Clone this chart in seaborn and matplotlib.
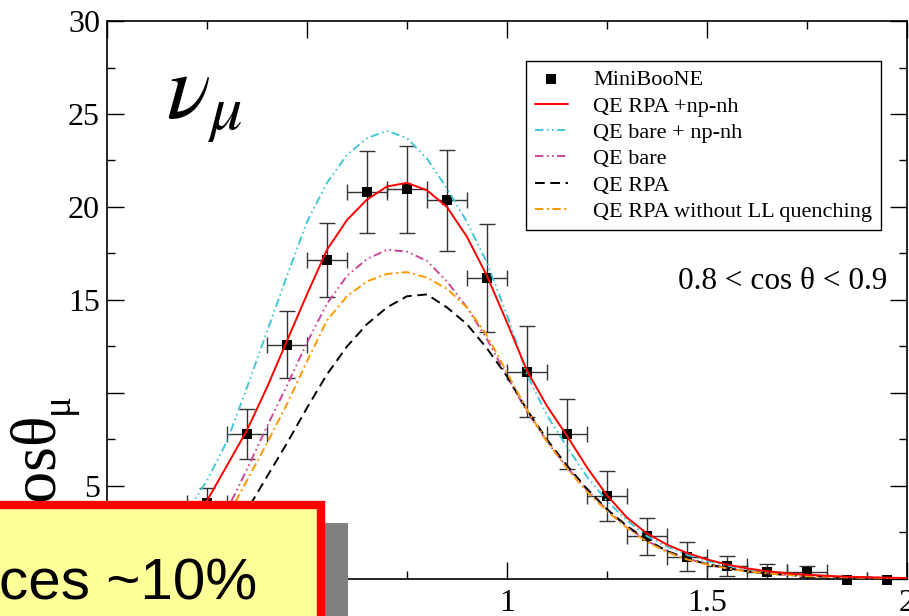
import numpy as np
import pandas as pd
import matplotlib
matplotlib.use("Agg")
import matplotlib.pyplot as plt
import seaborn as sns
from matplotlib.patches import Rectangle
from matplotlib.ticker import MultipleLocator

# MiniBooNE points (bin centres, values, errors)
x_data = [0.15, 0.25, 0.35, 0.45, 0.55, 0.65, 0.75, 0.85, 0.95, 1.05,
          1.15, 1.25, 1.35, 1.45, 1.55, 1.65, 1.75, 1.85, 1.95]
y_data = [1.6, 4.1, 7.8, 12.6, 17.15, 20.8, 20.95, 20.35, 16.2, 11.15,
          7.8, 4.45, 2.3, 1.2, 0.7, 0.38, 0.4, -0.05, -0.05]
y_err = [0.4, 0.8, 1.35, 1.8, 2.0, 2.2, 2.35, 2.7, 2.9, 2.45,
         1.9, 1.35, 1.0, 0.78, 0.55, 0.45, 0.3, 0.15, 0.1]
x_err = [0.05] * len(x_data)

# model curves
x_th = [0.00, 0.05, 0.10, 0.15, 0.20, 0.25, 0.30, 0.35, 0.40, 0.45,
        0.50, 0.55, 0.60, 0.65, 0.70, 0.75, 0.80, 0.85, 0.90, 0.95,
        1.00, 1.05, 1.10, 1.15, 1.20, 1.25, 1.30, 1.35, 1.40, 1.45,
        1.50, 1.55, 1.60, 1.65, 1.70, 1.75, 1.80, 1.85, 1.90, 1.95, 2.00]
rpa_npnh = [0.0, 0.3, 0.8, 1.7, 2.9, 4.2, 6.1, 8.0, 10.3, 12.8,
            15.3, 17.7, 19.3, 20.4, 21.1, 21.3, 20.9, 20.0, 18.4, 16.3,
            13.8, 11.2, 9.3, 7.7, 6.0, 4.5, 3.3, 2.45, 1.85, 1.4,
            1.05, 0.78, 0.57, 0.42, 0.31, 0.23, 0.17, 0.12, 0.09, 0.07, 0.05]
bare_npnh = [0.0, 0.4, 1.1, 2.2, 3.6, 5.3, 7.4, 10.3, 13.3, 16.3,
             19.2, 21.3, 22.8, 23.7, 24.1, 23.7, 22.6, 21.0, 19.2, 17.0,
             14.2, 11.0, 8.8, 7.1, 5.5, 4.2, 3.15, 2.3, 1.75, 1.3,
             0.97, 0.72, 0.53, 0.39, 0.28, 0.21, 0.15, 0.11, 0.08, 0.06, 0.04]
bare = [0.0, 0.2, 0.6, 1.3, 1.4, 2.4, 3.7, 5.9, 8.2, 10.4,
        12.7, 14.8, 16.3, 17.2, 17.7, 17.6, 17.1, 16.0, 14.6, 12.9,
        10.9, 9.0, 7.4, 6.0, 4.8, 3.7, 2.8, 2.05, 1.5, 1.1,
        0.8, 0.58, 0.42, 0.3, 0.22, 0.16, 0.12, 0.09, 0.07, 0.05, 0.03]
rpa = [0.0, 0.1, 0.3, 0.6, 0.9, 1.6, 2.5, 3.7, 5.5, 7.3,
       9.2, 11.0, 12.5, 13.7, 14.6, 15.2, 15.3, 14.6, 13.7, 12.4,
       10.9, 9.1, 7.5, 6.1, 4.85, 3.75, 2.85, 2.1, 1.5, 1.1,
       0.8, 0.58, 0.42, 0.3, 0.22, 0.16, 0.12, 0.09, 0.07, 0.05, 0.03]
rpa_noLL = [0.0, 0.1, 0.4, 0.9, 1.5, 2.3, 3.3, 5.3, 7.3, 9.4,
            11.7, 13.9, 15.2, 16.0, 16.4, 16.5, 16.2, 15.6, 14.6, 13.1,
            11.1, 9.1, 7.4, 5.95, 4.7, 3.65, 2.75, 2.0, 1.45, 1.05,
            0.78, 0.57, 0.41, 0.3, 0.22, 0.16, 0.12, 0.09, 0.07, 0.05, 0.03]

sns.set_theme(style="ticks")
plt.rcParams['font.family'] = ['Liberation Serif', 'DejaVu Serif']
plt.rcParams['mathtext.fontset'] = 'stix'
plt.rcParams['lines.scale_dashes'] = False
for k in ['text.color', 'axes.labelcolor', 'xtick.color', 'ytick.color', 'axes.edgecolor']:
    plt.rcParams[k] = 'black'

fig = plt.figure(figsize=(9.09, 6.16), dpi=100)
ax = fig.add_axes([0.1177, 0.0601, 0.880, 0.9058])

ax.errorbar(x_data, y_data, xerr=x_err, yerr=y_err, fmt='none',
            ecolor='#333333', elinewidth=1.0, capsize=6, capthick=1.0, zorder=2)
sns.scatterplot(x=x_data, y=y_data, marker='s', s=50, color='black',
                linewidth=0, ax=ax, label='MiniBooNE', zorder=3, clip_on=False)

df = pd.DataFrame({'x': x_th, 'rpa_npnh': rpa_npnh, 'bare_npnh': bare_npnh,
                   'bare': bare, 'rpa': rpa, 'rpa_noLL': rpa_noLL})
sns.lineplot(data=df, x='x', y='rpa_npnh', color='#ff0000', lw=1.4,
             ax=ax, label='QE RPA +np-nh', zorder=5)
sns.lineplot(data=df, x='x', y='bare_npnh', color='#40c8d8', lw=1.4,
             ls=(0, (6, 2.5, 1.2, 2.5, 1.2, 2.5)), ax=ax, label='QE bare + np-nh', zorder=4)
sns.lineplot(data=df, x='x', y='bare', color='#cc4499', lw=1.4,
             ls=(0, (6, 2.5, 1.2, 2.5, 1.2, 2.5)), ax=ax, label='QE bare', zorder=4)
sns.lineplot(data=df, x='x', y='rpa', color='black', lw=1.4,
             ls=(0, (7, 4)), ax=ax, label='QE RPA', zorder=4)
sns.lineplot(data=df, x='x', y='rpa_noLL', color='#ff9900', lw=1.4,
             ls=(0, (6, 2.5, 1.5, 2.5)), ax=ax, label='QE RPA without LL quenching', zorder=4)

ax.set_xlim(0, 2)
ax.set_ylim(0, 30)
ax.set_xlabel('')
ax.set_ylabel('')
ax.xaxis.set_major_locator(MultipleLocator(0.5))
ax.xaxis.set_minor_locator(MultipleLocator(0.25))
ax.yaxis.set_major_locator(MultipleLocator(5))
ax.yaxis.set_minor_locator(MultipleLocator(2.5))
# labels at 0 and the 10 sit under the overlay / y label on the slide
ax.xaxis.set_major_formatter(plt.FuncFormatter(lambda v, p: '' if v == 0 else '%g' % v))
ax.yaxis.set_major_formatter(plt.FuncFormatter(lambda v, p: '' if v in (0, 10) else '%g' % v))
ax.tick_params(which='both', direction='in', top=True, right=True,
               width=1.0, color='black', labelsize=23, labelcolor='black')
ax.tick_params(which='major', length=12)
ax.tick_params(which='minor', length=6)
ax.tick_params(axis='y', pad=5)
ax.tick_params(axis='x', pad=7)
for s in ax.spines.values():
    s.set_linewidth(1.2)
    s.set_color('black')
ax.set_facecolor('white')

leg = ax.legend(loc='upper right', bbox_to_anchor=(0.9675, 0.928), borderaxespad=0,
                fontsize=16, frameon=True, fancybox=False, edgecolor='black',
                framealpha=1, borderpad=0.38, labelspacing=0.26, handlelength=1.5,
                handletextpad=1.15)
leg.get_frame().set_linewidth(1.0)
for t in leg.get_texts():
    t.set_color('black')

ax.text(0.976, 0.534, '0.8 < cos \u03b8 < 0.9', transform=ax.transAxes,
        ha='right', va='center', fontsize=22.5, color='black')

# nu_mu label
fig.text(166 / 909, (616 - 117) / 616, r'$\nu_\mu$', fontsize=66, va='baseline', ha='left',
         color='black')

# partial y label
fig.text(53 / 909, (616 - 413) / 616, 'cos\u03b8', rotation=90, rotation_mode='anchor',
         ha='right', va='baseline', fontsize=46, color='black')
fig.text(68 / 909, (616 - 393) / 616, '\u03bc', rotation=90, rotation_mode='anchor',
         ha='right', va='baseline', fontsize=28, color='black')

# slide overlay box
fig.add_artist(Rectangle((300 / 909, -0.05), 48 / 909, (616 - 523) / 616 + 0.05,
                         transform=fig.transFigure, facecolor='#808080',
                         edgecolor='none', zorder=5))
fig.add_artist(Rectangle((-10 / 909, -0.05), 331 / 909, (616 - 505) / 616 + 0.05,
                         transform=fig.transFigure, facecolor='#ffff99',
                         edgecolor='#ff0000', linewidth=6, zorder=6))
fig.text(-1 / 909, (616 - 600) / 616, 'ces ~10%', family=['Liberation Sans', 'DejaVu Sans'],
         fontsize=42, va='baseline', ha='left', zorder=7, color='black')

fig.savefig('out.png', dpi=100)
